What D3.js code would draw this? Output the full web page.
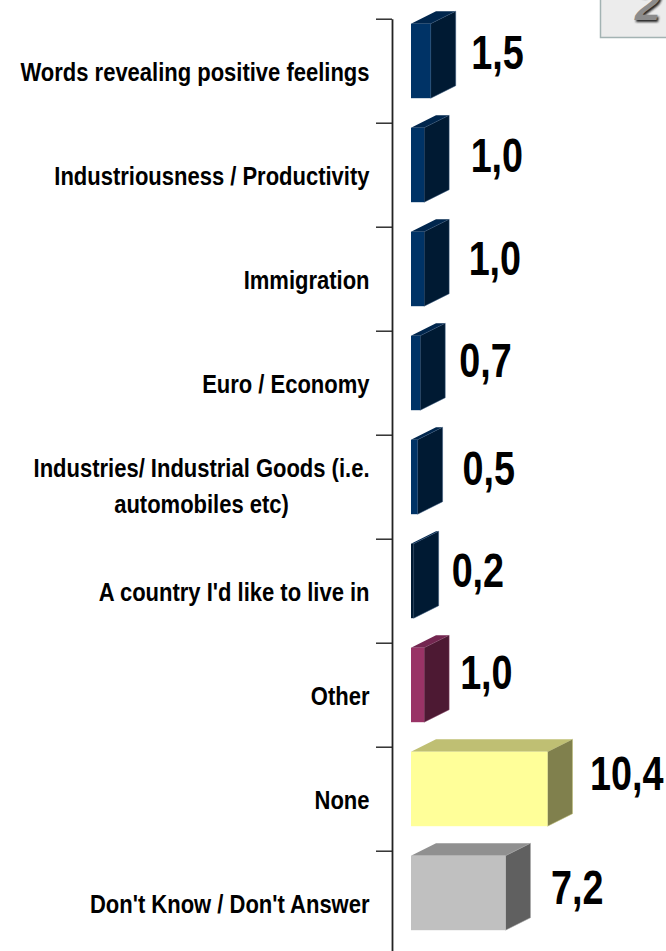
<!DOCTYPE html>
<html>
<head>
<meta charset="utf-8">
<script src="https://cdn.jsdelivr.net/npm/d3@7"></script>
<style>
  html, body { margin: 0; padding: 0; background: #fff; overflow: hidden; }
  text { font-family: "Liberation Sans", Arial, sans-serif; font-weight: bold; fill: #000; }
</style>
</head>
<body>
<svg id="chart" width="666" height="951"></svg>
<script>
const categories = [
  ['Words revealing positive feelings'],
  ['Industriousness / Productivity'],
  ['Immigration'],
  ['Euro / Economy'],
  ['Industries/ Industrial Goods (i.e.', 'automobiles etc)'],
  ["A country I'd like to live in"],
  ['Other'],
  ['None'],
  ["Don't Know / Don't Answer"]
];
const values = [1.5, 1.0, 1.0, 0.7, 0.5, 0.2, 1.0, 10.4, 7.2];
const groups = ['blue', 'blue', 'blue', 'blue', 'blue', 'blue', 'other', 'none', 'dk'];

const colors = {
  blue: {front: '#003366', side: '#001a33', top: '#00264d', edge: '#33557a'},
  other: {front: '#993366', side: '#4d1933', top: '#732650', edge: '#8a4a6c'},
  none: {front: '#ffff99', side: '#80804d', top: '#bfbf73', edge: '#bfbf73'},
  dk: {front: '#c0c0c0', side: '#606060', top: '#909090', edge: '#a8a8a8'}
};

// the value labels sit by hand in the original, so they need nudging
const labelNudgeX = [15.5, 21.5, 19.5, 14, 20, 13, 11, 17.5, 20.5];
const labelCenterY = [33, 32, 31, 29, 33, 31, 29, 26, 36];

const width = 666, height = 951;
const axisX = 392, barX = 411;
const depthX = 25, depthY = 12.5;
const barH = 74.5;

const svg = d3.select('#chart');

const y = d3.scaleBand()
  .domain(d3.range(categories.length))
  .range([18.7, 18.7 + 104 * categories.length]);

const x = d3.scaleLinear()
  .domain([0, 10.4])
  .range([barX, barX + 136.5]);

// axis ticks fall on the band edges, not the centres
const edges = d3.scaleLinear()
  .domain([0, categories.length])
  .range(y.range());

svg.append('g')
  .attr('transform', `translate(${axisX}, 0)`)
  .call(d3.axisLeft(edges)
    .tickValues(d3.range(categories.length + 1))
    .tickFormat('')
    .tickSize(16)
    .tickSizeOuter(0))
  .call(g => g.selectAll('line').attr('stroke', '#222').attr('stroke-width', 1.4))
  .call(g => g.select('.domain').attr('stroke', '#222').attr('stroke-width', 1.8));

const bars = svg.selectAll('.bar')
  .data(values)
  .join('g')
  .attr('class', 'bar')
  .attr('transform', (d, i) => `translate(0, ${y(i) + 5})`);

// top face
bars.append('path')
  .attr('d', d => {
    const r = x(d);
    return `M${barX},0 L${barX + depthX},${-depthY} L${r + depthX},${-depthY} L${r},0 Z`;
  })
  .attr('fill', (d, i) => colors[groups[i]].top);

// side face
bars.append('path')
  .attr('d', d => {
    const r = x(d);
    return `M${r},0 L${r + depthX},${-depthY} L${r + depthX},${barH - depthY} L${r},${barH} Z`;
  })
  .attr('fill', (d, i) => colors[groups[i]].side)
  .attr('stroke', (d, i) => colors[groups[i]].edge)
  .attr('stroke-width', 0.5);

// front face
bars.append('rect')
  .attr('x', barX)
  .attr('y', 0)
  .attr('width', d => x(d) - barX)
  .attr('height', barH)
  .attr('fill', (d, i) => x(d) - barX < 3 ? colors[groups[i]].side : colors[groups[i]].front);

// value labels, squeezed like the stretched original
svg.selectAll('.value')
  .data(values)
  .join('text')
  .attr('class', 'value')
  .attr('text-anchor', 'start')
  .attr('font-size', 49)
  .attr('transform', (d, i) => {
    const tx = x(d) + depthX + labelNudgeX[i];
    const ty = y(i) + labelCenterY[i] + 17.5;
    return `translate(${tx}, ${ty}) scale(0.77, 1)`;
  })
  .text(d => d.toFixed(1).replace('.', ','));

// category labels
const rightEdge = 369.5, labelScale = 0.88;

const catLabels = svg.selectAll('.cat')
  .data(categories)
  .join('g')
  .attr('class', 'cat')
  .attr('transform', (d, i) => `translate(${rightEdge}, ${y(i) + y.bandwidth() / 2 + 1}) scale(${labelScale}, 1)`);

catLabels.each(function (lines) {
  const g = d3.select(this);
  if (lines.length === 1) {
    g.append('text')
      .attr('text-anchor', 'end')
      .attr('font-size', 25)
      .attr('y', 9)
      .text(lines[0]);
  } else {
    const t = g.selectAll('text')
      .data(lines)
      .join('text')
      .attr('font-size', 25)
      .attr('y', (d, i) => 7.5 + (i - 0.5) * 36)
      .text(d => d);
    // wrapped lines are centred on each other, block sits on the right edge
    const w = t.nodes()[0].getComputedTextLength();
    t.attr('text-anchor', 'middle').attr('x', -w / 2);
  }
});

// cut off page number box, top right
svg.append('defs')
  .append('filter')
  .attr('id', 'soft')
  .append('feGaussianBlur')
  .attr('stdDeviation', 1);

svg.append('rect')
  .attr('x', 600.5)
  .attr('y', -10)
  .attr('width', 80)
  .attr('height', 47.5)
  .attr('fill', '#ececec')
  .attr('stroke', '#a3b3b3')
  .attr('stroke-width', 1.5);

svg.append('text')
  .attr('x', 636.5)
  .attr('y', 22)
  .attr('font-size', 46)
  .attr('font-style', 'italic')
  .attr('filter', 'url(#soft)')
  .style('fill', '#222')
  .text('2');

svg.append('text')
  .attr('x', 635)
  .attr('y', 20)
  .attr('font-size', 46)
  .attr('font-style', 'italic')
  .style('fill', '#8c8c8c')
  .text('2');
</script>
</body>
</html>
